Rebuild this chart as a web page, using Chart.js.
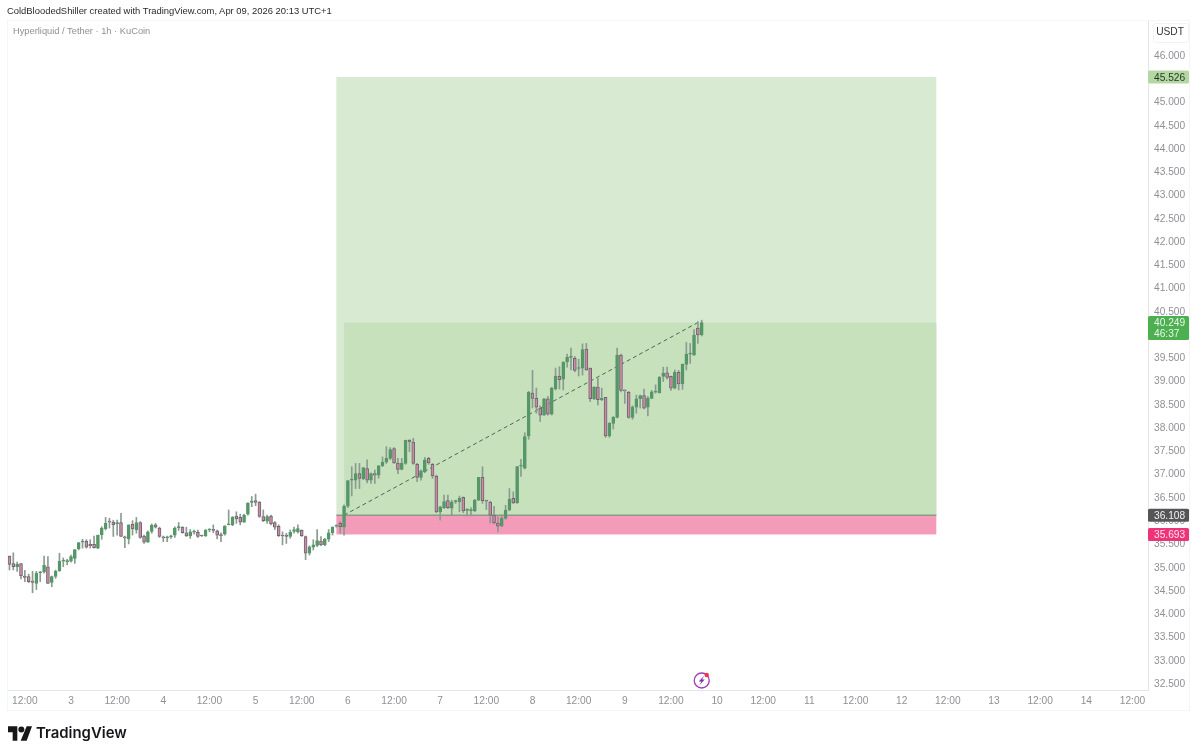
<!DOCTYPE html>
<html>
<head>
<meta charset="utf-8">
<title>HYPE / USDT</title>
<script src="https://cdn.jsdelivr.net/npm/chart.js@4/dist/chart.umd.min.js"></script>
<style>
  body { margin: 0; background: #fff; font-family: "Liberation Sans", sans-serif; }
  #wrap { position: relative; width: 1200px; height: 755px; overflow: hidden; }
  #wrap div, #wrap svg { position: absolute; white-space: nowrap; }
  #author { left: 7px; top: 4px; font-size: 9.42px; line-height: 14px; color: #2a2a2e; }
  #pair { left: 13px; top: 24px; font-size: 9.3px; line-height: 14px; color: #8b8f96; }
  #brand { left: 36px; top: 722px; font-family: Inter, sans-serif; font-size: 14.9px; line-height: 22px; font-weight: 600; color: #17171a; }
  #logo { left: 8px; top: 726px; }
</style>
</head>
<body>
<div id="wrap">
  <canvas id="grafico" width="1200" height="755"></canvas>
  <div id="author">ColdBloodedShiller created with TradingView.com, Apr 09, 2026 20:13 UTC+1</div>
  <div id="pair">Hyperliquid / Tether · 1h · KuCoin</div>
  <svg id="logo" width="24" height="15" viewBox="0 0 36 22"><path d="M14 22H7V9H0V0h14zM28 22h-9L28 0h8z" fill="#17171a"/><circle cx="20" cy="5" r="4.5" fill="#17171a"/></svg>
  <div id="brand">TradingView</div>
</div>
<script>
// hourly candles, counted in hours from the 3rd 00:00
const firstHour = -16

const opens = [
  35.23,35.07,35.00,35.07,34.80,34.79,34.69,34.64,34.87,34.89,
  35.00,34.66,34.79,34.91,35.12,35.11,35.12,35.18,35.39,35.53,
  35.55,35.48,35.48,35.40,35.69,35.82,35.97,35.96,35.92,35.95,
  35.63,35.60,35.91,35.79,35.95,35.66,35.53,35.76,35.90,35.83,
  35.63,35.62,35.64,35.68,35.84,35.85,35.73,35.66,35.74,35.74,
  35.67,35.66,35.79,35.79,35.77,35.68,35.70,35.90,35.90,36.09,
  36.06,35.96,36.13,36.38,36.42,36.39,36.08,35.98,36.09,35.95,
  35.87,35.67,35.68,35.65,35.76,35.75,35.78,35.65,35.29,35.42,
  35.46,35.55,35.47,35.59,35.73,35.87,35.93,35.85,36.30,36.86,
  36.86,37.00,36.89,37.11,36.86,37.00,36.97,37.17,37.25,37.33,
  37.54,37.23,37.09,37.22,37.72,37.68,37.20,36.92,37.04,37.33,
  37.20,36.95,36.18,36.27,36.42,36.26,36.40,36.40,36.49,36.21,
  36.20,36.20,36.43,36.92,36.42,36.39,36.11,35.94,35.87,36.04,
  36.22,36.47,36.37,37.16,37.12,37.81,38.73,38.62,38.41,38.26,
  38.61,38.28,38.82,39.09,39.03,39.40,39.50,39.48,39.26,39.27,
  39.68,39.27,38.61,38.86,38.59,38.64,37.81,38.08,38.21,39.55,
  38.79,38.75,38.21,38.43,38.61,38.68,38.43,38.62,38.75,38.74,
  39.09,39.17,39.09,38.84,39.18,38.93,39.35,39.57,39.55,40.13,39.98
]
const highs = [
  35.23,35.30,35.10,35.07,34.92,34.84,34.90,34.90,34.90,35.23,
  35.22,34.80,34.93,35.29,35.19,35.16,35.25,35.37,35.52,35.59,
  35.58,35.58,35.66,35.68,35.86,36.06,36.04,36.00,36.00,36.15,
  35.66,35.90,35.99,36.06,35.97,35.68,35.77,35.92,35.93,35.85,
  35.66,35.66,35.68,35.86,35.95,35.86,35.85,35.80,35.79,35.79,
  35.68,35.80,35.82,35.90,35.79,35.73,35.88,36.22,36.08,36.18,
  36.13,36.13,36.38,36.51,36.56,36.40,36.22,36.11,36.11,35.97,
  35.90,35.75,35.72,35.79,35.85,35.90,35.79,35.66,35.45,35.58,
  35.80,35.65,35.61,35.80,35.86,35.90,35.97,36.33,36.85,37.15,
  37.22,37.22,37.13,37.30,37.02,37.08,37.18,37.36,37.58,37.56,
  37.56,37.33,37.33,37.72,37.73,37.76,37.22,37.08,37.35,37.35,
  37.22,36.97,36.30,36.54,36.54,36.43,36.43,36.52,36.50,36.25,
  36.27,36.45,36.92,37.15,36.43,36.41,36.30,36.07,36.11,36.32,
  36.68,36.61,37.16,37.31,37.88,38.77,39.22,38.84,38.46,38.62,
  38.66,38.86,39.27,39.30,39.41,39.57,39.70,39.52,39.46,39.79,
  39.80,39.27,38.87,39.05,38.84,38.64,38.10,38.23,39.70,39.57,
  38.80,38.77,38.46,38.69,38.69,38.82,38.66,38.79,38.91,39.09,
  39.29,39.29,39.10,39.23,39.22,39.36,39.82,39.80,40.10,40.27,40.30
]
const lows = [
  34.93,34.93,34.90,34.74,34.68,34.66,34.44,34.51,34.68,34.86,
  34.64,34.57,34.75,34.90,35.00,35.04,35.10,35.07,35.36,35.40,
  35.40,35.40,35.40,35.39,35.59,35.79,35.83,35.65,35.68,35.65,
  35.41,35.49,35.68,35.72,35.61,35.50,35.52,35.72,35.83,35.63,
  35.54,35.54,35.61,35.63,35.78,35.72,35.65,35.61,35.70,35.63,
  35.65,35.65,35.75,35.73,35.60,35.54,35.68,35.90,35.88,35.93,
  35.90,35.95,36.11,36.29,36.31,36.06,35.97,35.93,35.90,35.80,
  35.65,35.47,35.50,35.61,35.72,35.72,35.65,35.15,35.25,35.36,
  35.43,35.45,35.45,35.54,35.68,35.85,35.72,35.68,36.27,36.52,
  36.68,36.68,36.87,36.80,36.79,36.79,36.90,37.15,37.22,37.30,
  37.22,37.00,37.08,37.20,37.47,37.20,36.83,36.86,37.02,37.20,
  36.90,36.16,36.00,36.25,36.25,36.11,36.36,36.18,36.16,36.09,
  36.09,36.18,36.42,36.36,36.23,35.94,35.92,35.75,35.86,36.02,
  36.20,36.36,36.36,36.94,37.10,37.74,38.41,38.30,38.12,38.25,
  38.26,38.26,38.80,38.82,38.80,39.29,39.23,39.19,39.10,39.12,
  39.22,38.55,38.59,38.48,38.57,37.78,37.78,37.96,38.20,38.76,
  38.51,38.19,38.17,38.30,38.41,38.39,38.24,38.61,38.73,38.73,
  38.98,39.03,38.79,38.82,38.80,38.81,39.23,39.37,39.54,39.80,39.96
]
const closes = [
  35.05,35.00,35.05,34.80,34.77,34.68,34.66,34.86,34.88,35.03,
  34.64,34.79,34.90,35.12,35.13,35.12,35.22,35.37,35.52,35.54,
  35.42,35.45,35.41,35.68,35.83,35.93,35.96,35.90,35.95,35.65,
  35.62,35.90,35.81,35.95,35.63,35.53,35.75,35.89,35.85,35.65,
  35.62,35.63,35.65,35.83,35.85,35.73,35.66,35.75,35.75,35.65,
  35.66,35.79,35.80,35.78,35.68,35.67,35.88,35.91,36.06,36.03,
  35.96,36.11,36.36,36.41,36.38,36.08,35.99,36.08,35.92,35.85,
  35.67,35.66,35.65,35.74,35.80,35.82,35.67,35.29,35.43,35.47,
  35.56,35.47,35.59,35.73,35.85,35.88,35.86,36.30,36.85,36.88,
  37.00,36.90,37.13,36.86,37.00,36.97,37.17,37.25,37.33,37.52,
  37.23,37.09,37.22,37.72,37.68,37.22,36.92,37.06,37.30,37.23,
  36.95,36.18,36.29,36.40,36.27,36.39,36.41,36.47,36.20,36.22,
  36.23,36.43,36.92,36.42,36.41,36.11,35.94,35.87,36.04,36.22,
  36.45,36.37,37.15,37.17,37.80,38.75,38.62,38.43,38.26,38.61,
  38.28,38.84,39.10,39.02,39.40,39.50,39.51,39.22,39.27,39.67,
  39.23,38.61,38.86,38.59,38.62,37.81,38.08,38.21,39.55,38.79,
  38.78,38.21,38.43,38.61,38.68,38.41,38.62,38.76,38.76,39.07,
  39.16,39.07,38.84,39.18,38.93,39.35,39.57,39.58,39.98,39.98,40.249
]

// long position tool
const targetPrice = 45.526
const entryPrice = 36.108
const stopPrice = 35.693
const lastPrice = 40.249
const countdown = '46:37'
const zoneHours = [69, 225]
const profitHours = [71, 225]
const tradeLineHours = [71, 163]

const upColor = '#569768'
const downColor = '#d088a8'
const downBorder = '#6b666d'
const wickColor = '#8b9b91'
const axisFont = '10.2px "Liberation Sans", sans-serif'

const hours = closes.map((c, i) => firstHour + i)

// zones go under the candles
const positionZones = {
    id: 'positionZones',
    beforeDatasetsDraw(chart) {
        const {ctx, scales: {x, y}} = chart
        const rect = (hrs, top, bottom, color) => {
            ctx.fillStyle = color
            ctx.fillRect(x.getPixelForValue(hrs[0]), y.getPixelForValue(top),
                x.getPixelForValue(hrs[1]) - x.getPixelForValue(hrs[0]),
                y.getPixelForValue(bottom) - y.getPixelForValue(top))
        }
        ctx.save()
        rect(zoneHours, targetPrice, entryPrice, '#d9ead3')
        rect(profitHours, lastPrice, entryPrice, '#c8e1bd')
        rect(zoneHours, entryPrice, stopPrice, '#f49bba')

        ctx.strokeStyle = '#8b9a84'
        ctx.lineWidth = 1.5
        ctx.beginPath()
        ctx.moveTo(x.getPixelForValue(zoneHours[0]), y.getPixelForValue(entryPrice))
        ctx.lineTo(x.getPixelForValue(zoneHours[1]), y.getPixelForValue(entryPrice))
        ctx.stroke()

        ctx.strokeStyle = '#466b4e'
        ctx.lineWidth = 1
        ctx.setLineDash([4, 3])
        ctx.beginPath()
        ctx.moveTo(x.getPixelForValue(tradeLineHours[0]), y.getPixelForValue(entryPrice))
        ctx.lineTo(x.getPixelForValue(tradeLineHours[1]), y.getPixelForValue(lastPrice))
        ctx.stroke()
        ctx.restore()
    }
}

// price tags on the right axis, the frame and the news marker
const overlays = {
    id: 'overlays',
    afterDraw(chart) {
        const {ctx, chartArea: {left, right, top, bottom}, scales: {x, y}} = chart
        const tag = (value, bg, fg, extra) => {
            const py = y.getPixelForValue(value)
            const h = extra ? 24 : 13
            const by = extra ? py - 6.5 : py - h / 2
            ctx.fillStyle = bg
            ctx.beginPath()
            ctx.roundRect(right, by, 41, h, 1.5)
            ctx.fill()
            ctx.fillStyle = fg
            ctx.font = axisFont
            ctx.textAlign = 'left'
            ctx.textBaseline = 'middle'
            ctx.fillText(value.toFixed(3), right + 6, py + 1)
            if (extra) ctx.fillText(extra, right + 6, py + 11.5)
        }

        ctx.save()
        ctx.strokeStyle = '#f4f5f6'
        ctx.lineWidth = 1
        ctx.strokeRect(left - 0.5, top + 0.5, 1190 - left, bottom + 20 - top)

        // unit box
        ctx.fillStyle = '#fff'
        ctx.strokeStyle = '#f1f2f4'
        ctx.beginPath()
        ctx.roundRect(right + 5.5, 23.5, 35, 19, 2)
        ctx.fill()
        ctx.stroke()
        ctx.fillStyle = '#34343a'
        ctx.font = axisFont
        ctx.textAlign = 'center'
        ctx.textBaseline = 'middle'
        ctx.fillText('USDT', right + 22, 32)

        tag(targetPrice, '#b5d7a6', '#1d3a1d')
        tag(lastPrice, '#4caf50', '#eaf6ea', countdown)
        tag(entryPrice, '#555558', '#f2f2f2')
        tag(stopPrice, '#ef3379', '#fde4ee')

        // earnings style marker under the last candle
        const mx = x.getPixelForValue(hours[hours.length - 1])
        const my = bottom - 9.5
        ctx.strokeStyle = '#9c3fb5'
        ctx.lineWidth = 1.3
        ctx.beginPath()
        ctx.arc(mx, my, 7.5, 0, Math.PI * 2)
        ctx.stroke()
        ctx.fillStyle = '#7b2fa8'
        ctx.beginPath()
        ctx.moveTo(mx + 2.5, my - 5)
        ctx.lineTo(mx - 3, my + 1)
        ctx.lineTo(mx - 0.3, my + 1)
        ctx.lineTo(mx - 2.5, my + 5)
        ctx.lineTo(mx + 3, my - 1)
        ctx.lineTo(mx + 0.3, my - 1)
        ctx.closePath()
        ctx.fill()
        ctx.fillStyle = '#f23645'
        ctx.beginPath()
        ctx.arc(mx + 5, my - 5.5, 2.2, 0, Math.PI * 2)
        ctx.fill()
        ctx.restore()
    }
}

const printChart = () => {
    const data = {
        datasets: [{
            // bodies
            data: hours.map((h, i) => ({x: h, y: [opens[i], closes[i]]})),
            backgroundColor: opens.map((o, i) => closes[i] >= o ? upColor : downColor),
            borderColor: opens.map((o, i) => closes[i] >= o ? upColor : downBorder),
            borderWidth: 1,
            borderSkipped: false,
            barThickness: 3,
            minBarLength: 1,
            grouped: false
        }, {
            // wicks
            data: hours.map((h, i) => ({x: h, y: [lows[i], highs[i]]})),
            backgroundColor: wickColor,
            borderWidth: 0,
            barThickness: 1,
            grouped: false
        }]
    }

    const tickFont = {family: '"Liberation Sans", sans-serif', size: 10.2}

    new Chart('grafico', {
        type: 'bar',
        data,
        options: {
            responsive: false,
            animation: false,
            layout: {padding: {left: 8, top: 20, right: 0, bottom: 45}},
            plugins: {legend: {display: false}, tooltip: {enabled: false}},
            scales: {
                x: {
                    type: 'linear',
                    offset: false,
                    min: -16.38,
                    max: 280.04,
                    afterFit: axis => { axis.height = 20 },
                    grid: {display: false, drawTicks: false},
                    border: {color: '#e3e5e9'},
                    ticks: {
                        stepSize: 12,
                        includeBounds: false,
                        autoSkip: false,
                        maxRotation: 0,
                        padding: 5,
                        color: '#8f9096',
                        font: tickFont,
                        callback: v => v % 24 === 0 ? String(3 + v / 24) : '12:00'
                    }
                },
                y: {
                    position: 'right',
                    min: 32.35,
                    max: 46.752,
                    afterFit: axis => { axis.width = 52 },
                    grid: {display: false, drawTicks: false},
                    border: {color: '#e3e5e9'},
                    ticks: {
                        stepSize: 0.5,
                        includeBounds: false,
                        padding: 6,
                        labelOffset: 1,
                        color: '#8f9096',
                        font: tickFont,
                        callback: v => v > 46 ? '' : v.toFixed(3)
                    }
                }
            }
        },
        plugins: [positionZones, overlays]
    })
}

printChart()
</script>
</body>
</html>
